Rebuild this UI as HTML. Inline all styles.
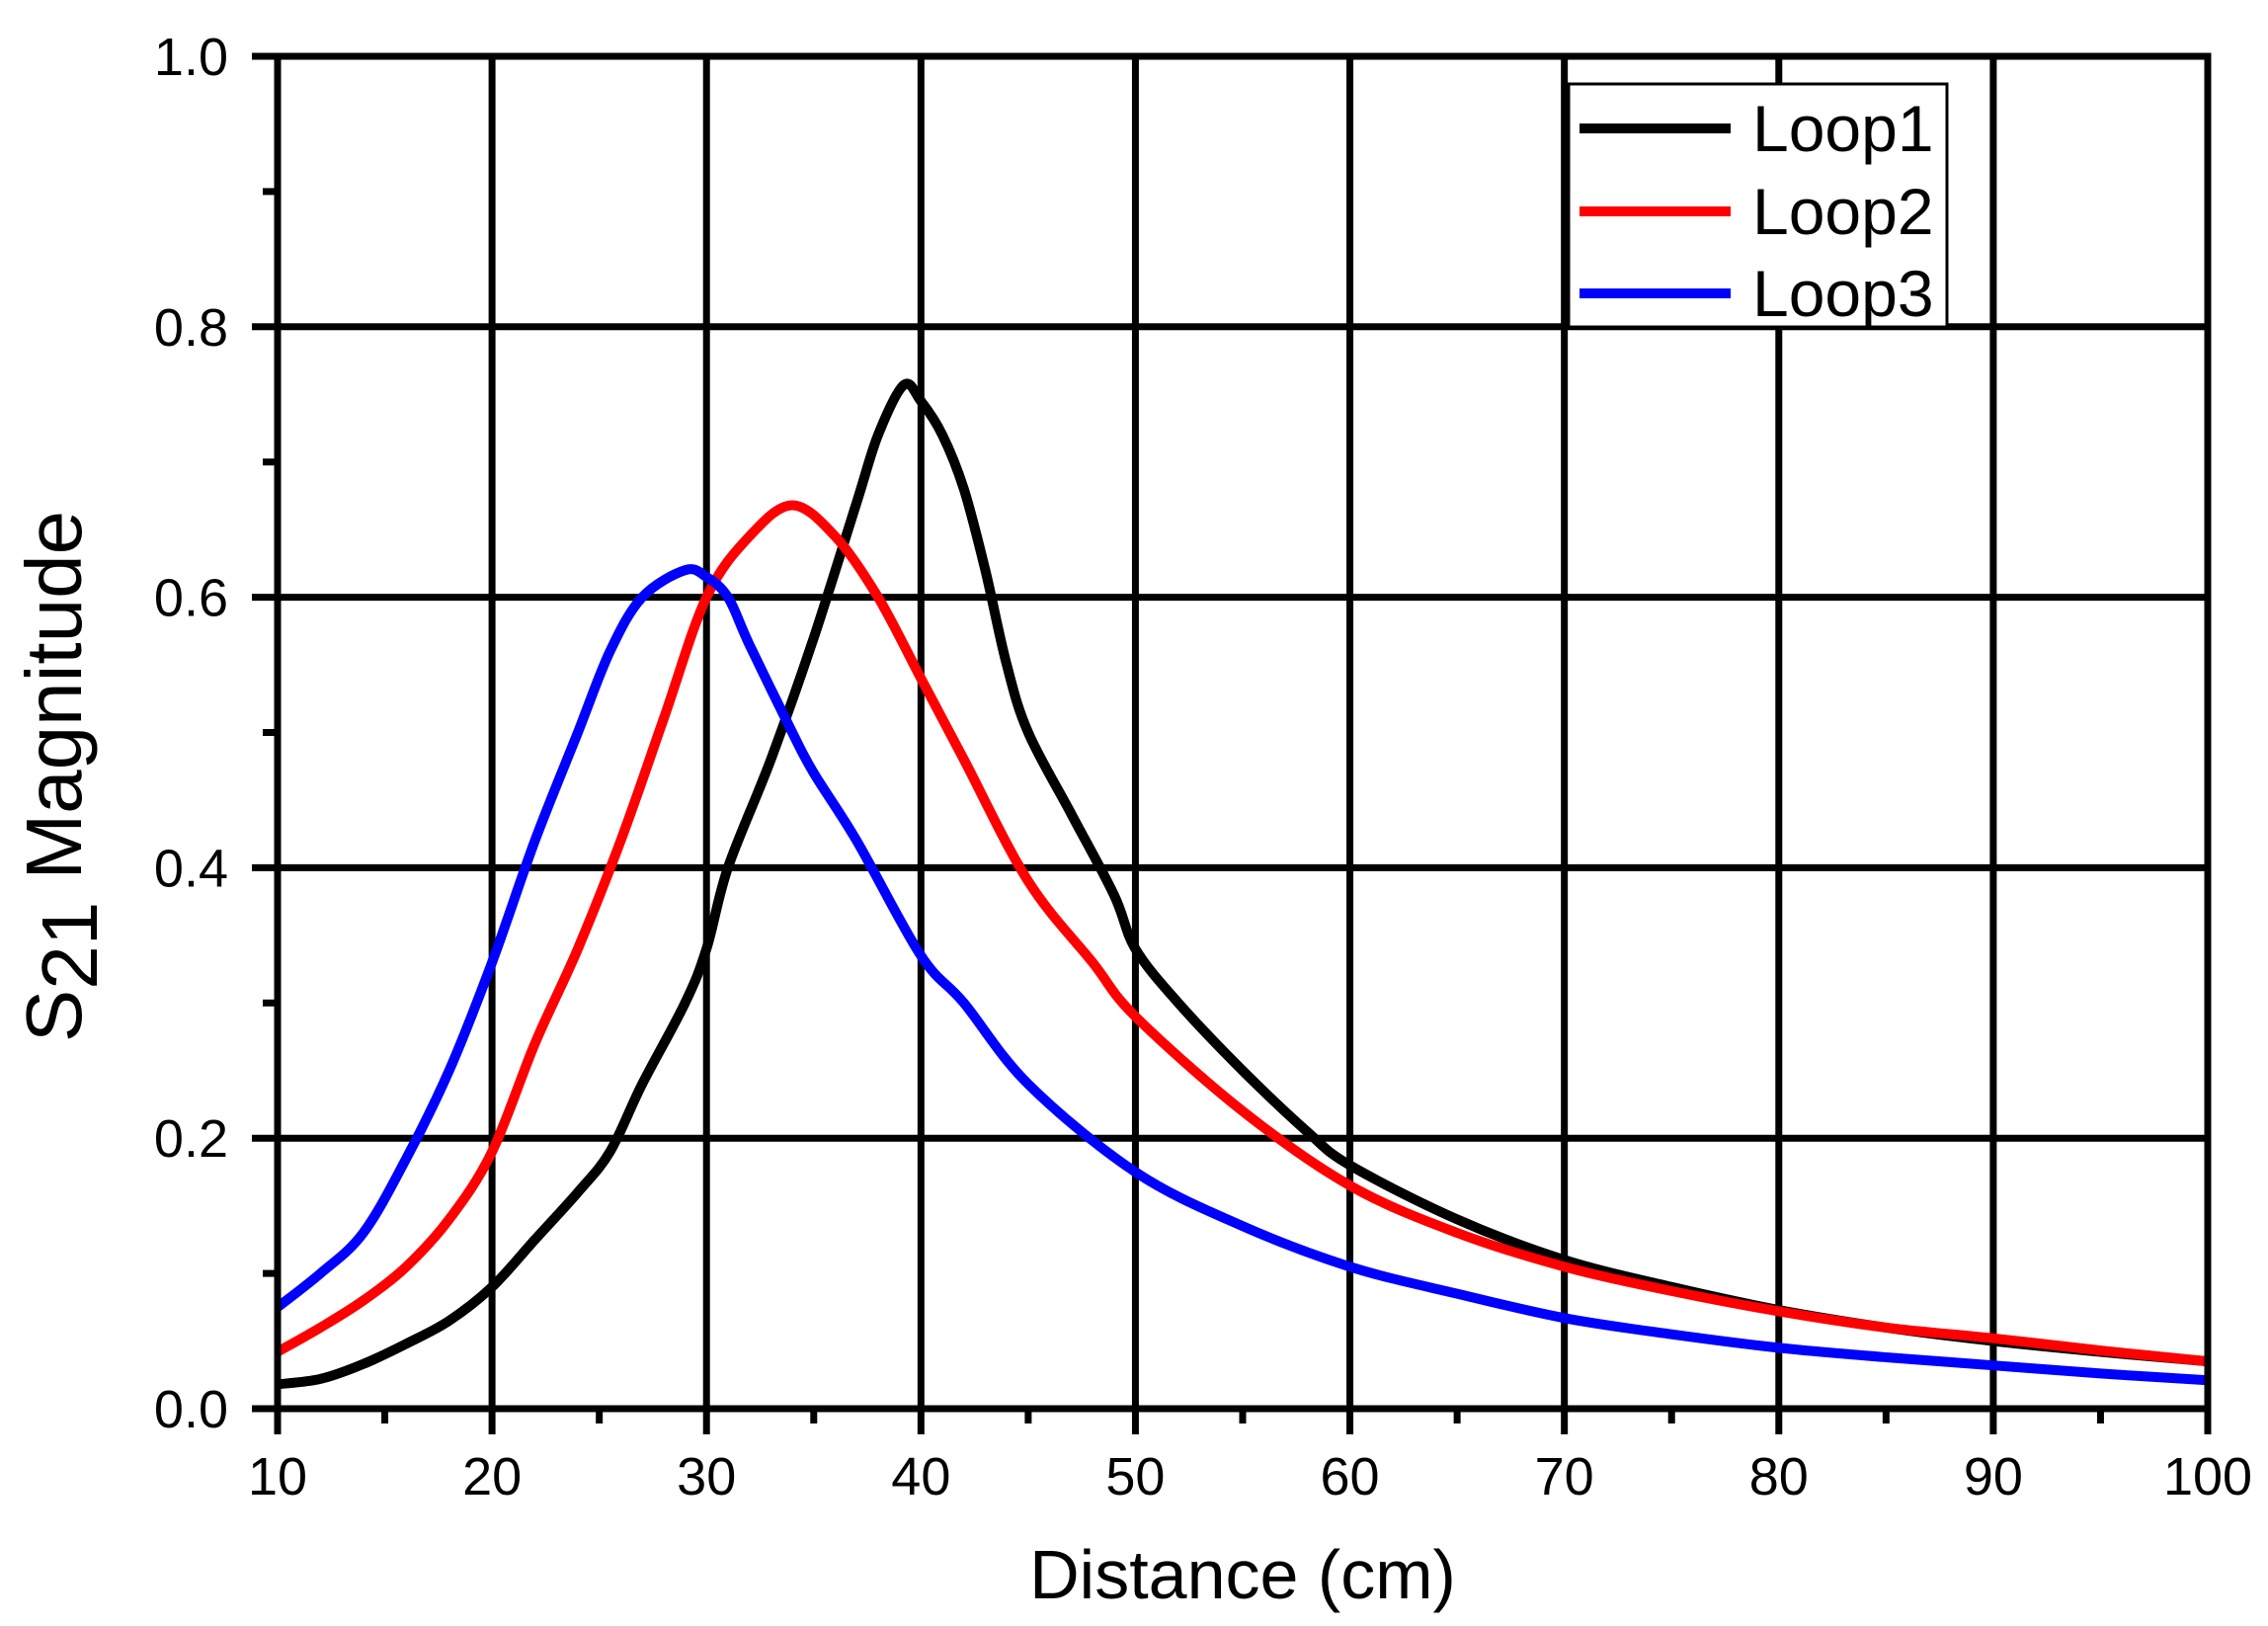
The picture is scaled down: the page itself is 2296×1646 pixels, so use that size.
<!DOCTYPE html>
<html><head><meta charset="utf-8"><style>html,body{margin:0;padding:0;background:#fff}svg{display:block}text{font-family:"Liberation Sans",Arial,sans-serif;fill:#000}</style></head>
<body>
<svg id="chart" width="2296" height="1646" viewBox="0 0 2296 1646" xmlns="http://www.w3.org/2000/svg">
<g id="grid"></g>
<g id="series"></g>
<g id="axes"></g>
<text x="1258" y="1580" font-size="70" text-anchor="middle" dy="38">Distance (cm)</text>
<text transform="translate(82,786) rotate(-90)" font-size="80" text-anchor="middle">S<tspan dy="16">21</tspan><tspan dy="-16"> Magnitude</tspan></text>
<g id="legend"></g>
</svg>
<script>
const xTicks=[10,20,30,40,50,60,70,80,90,100];
const yTicks=[0,0.2,0.4,0.6,0.8,1.0];
const yTickLabels=["0.0","0.2","0.4","0.6","0.8","1.0"];
const seriesNames=["Loop1","Loop2","Loop3"];
const loop1X=[10,12,14,16,18,20,22,24,25.5,27,29,30,31,33,35,37,38,39.2,40,41,42,43,44,45,47,49,50,52,55,58,60,65,70,75,80,85,90,95,100];
const loop1Y=[0.018,0.022,0.033,0.048,0.065,0.09,0.125,0.16,0.19,0.24,0.3,0.34,0.4,0.48,0.57,0.67,0.72,0.757,0.745,0.72,0.68,0.62,0.55,0.5,0.44,0.38,0.34,0.3,0.25,0.205,0.18,0.14,0.11,0.09,0.073,0.06,0.05,0.042,0.035];
const loop2X=[10,12,14,16,18,20,22,24,26,28,30,32,34,36,38,40,42,45,48,50,55,60,65,70,75,80,85,90,95,100];
const loop2Y=[0.042,0.06,0.08,0.105,0.14,0.19,0.27,0.34,0.42,0.51,0.6,0.645,0.668,0.645,0.6,0.54,0.48,0.39,0.33,0.29,0.22,0.165,0.13,0.105,0.087,0.072,0.06,0.052,0.043,0.035];
const loop3X=[10,12,14,16,18,20,22,24,25.5,27,29,30,31,32,34,35,37,40,42,45,50,55,60,65,70,75,80,85,90,95,100];
const loop3Y=[0.075,0.1,0.13,0.185,0.25,0.33,0.42,0.5,0.56,0.6,0.62,0.615,0.6,0.565,0.5,0.47,0.42,0.335,0.3,0.24,0.175,0.135,0.105,0.085,0.067,0.055,0.045,0.038,0.032,0.026,0.021];
const colors=["#000000","#ff0000","#0000ff"];
const L=281,R=2235,T=57,B=1426;
const xs=v=>L+(v-10)/90*(R-L);
const ys=v=>B-(v-0)/1*(B-T);
const NS="http://www.w3.org/2000/svg";
function mk(tag,attrs,parent){const e=document.createElementNS(NS,tag);for(const k in attrs)e.setAttribute(k,attrs[k]);parent.appendChild(e);return e;}
function smooth(px,py){let d='M'+px[0].toFixed(1)+','+py[0].toFixed(1);
for(let i=0;i<px.length-1;i++){const i0=Math.max(0,i-1),i3=Math.min(px.length-1,i+2);
const c1x=px[i]+(px[i+1]-px[i0])/6,c1y=py[i]+(py[i+1]-py[i0])/6;
const c2x=px[i+1]-(px[i3]-px[i])/6,c2y=py[i+1]-(py[i3]-py[i])/6;
d+=' C'+c1x.toFixed(1)+','+c1y.toFixed(1)+' '+c2x.toFixed(1)+','+c2y.toFixed(1)+' '+px[i+1].toFixed(1)+','+py[i+1].toFixed(1);}
return d;}
const grid=document.getElementById('grid'),axes=document.getElementById('axes'),ser=document.getElementById('series'),leg=document.getElementById('legend');
xTicks.forEach(v=>{const l=mk('line',{x1:xs(v),x2:xs(v),y1:T,y2:B,stroke:'#000','stroke-width':7},grid);

});
yTicks.forEach(v=>{const l=mk('line',{x1:L,x2:R,y1:ys(v),y2:ys(v),stroke:'#000','stroke-width':7},grid);

});
[[loop1X,loop1Y],[loop2X,loop2Y],[loop3X,loop3Y]].forEach((s,i)=>{
const d=smooth(s[0].map(xs),s[1].map(ys));
const p=mk('path',{d:d,fill:'none',stroke:colors[i],'stroke-width':10,'stroke-linejoin':'round'},ser);

});
const frame=mk('rect',{x:L,y:T,width:R-L,height:B-T,fill:'none',stroke:'#000','stroke-width':7},axes);


xTicks.forEach(v=>{mk('line',{x1:xs(v),x2:xs(v),y1:B,y2:B+26,stroke:'#000','stroke-width':7},axes);
const t=mk('text',{x:xs(v),y:1513,'font-size':54,'text-anchor':'middle'},axes);t.textContent=v;


if(v<100)mk('line',{x1:xs(v+5),x2:xs(v+5),y1:B,y2:B+15,stroke:'#000','stroke-width':7},axes);});
yTicks.forEach((v,i)=>{mk('line',{x1:L-26,x2:L,y1:ys(v),y2:ys(v),stroke:'#000','stroke-width':7},axes);
const t=mk('text',{x:231,y:ys(v)+19,'font-size':54,'text-anchor':'end'},axes);t.textContent=yTickLabels[i];


if(v<1)mk('line',{x1:L-15,x2:L,y1:ys(v+0.1),y2:ys(v+0.1),stroke:'#000','stroke-width':7},axes);});
const box=mk('rect',{x:1588,y:85,width:383,height:246,fill:'#fff',stroke:'#000','stroke-width':3},leg);


[130,214,297].forEach((y,i)=>{const l=mk('line',{x1:1599,x2:1752,y1:y,y2:y,stroke:colors[i],'stroke-width':10},leg);


const t=mk('text',{x:1774,y:y+23,'font-size':66},leg);t.textContent=seriesNames[i];

});
</script>
</body></html>
